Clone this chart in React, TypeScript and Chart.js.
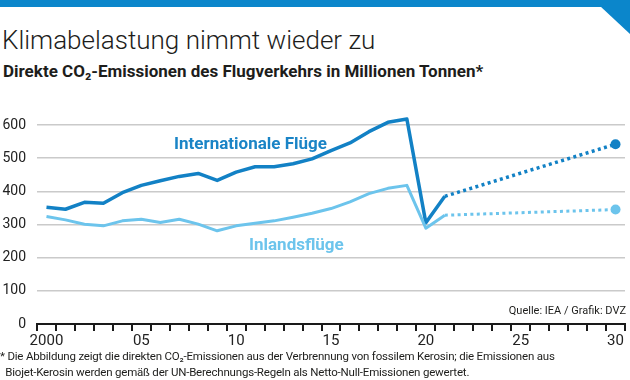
import React, { useEffect, useRef } from "react";
import { Chart, registerables } from "chart.js";

Chart.register(...registerables);

const YEARS = [
  "2000", "2001", "2002", "2003", "2004", "2005", "2006", "2007", "2008", "2009",
  "2010", "2011", "2012", "2013", "2014", "2015", "2016", "2017", "2018", "2019",
  "2020", "2021", "2022", "2023", "2024", "2025", "2026", "2027", "2028", "2029", "2030",
];
const TICK_LABELS = ["2000", "05", "10", "15", "20", "25", "30"];

// Historical values 2000–2021 (Mio. t CO2)
const INTERNATIONAL = [352, 346, 367, 364, 396, 418, 432, 445, 454, 433, 458, 474, 474, 483, 498, 523, 546, 580, 608, 618, 305, 385];
const INLAND = [324, 314, 301, 296, 311, 316, 306, 316, 301, 281, 296, 304, 311, 322, 334, 348, 368, 393, 409, 418, 289, 328];

// Projection endpoints
const PROJ_YEARS = ["2021", "2030"];
const INTERNATIONAL_PROJ = [385, 542];
const INLAND_PROJ = [328, 345];

const Y_TICKS = [0, 100, 200, 300, 400, 500, 600];

const DARK = "#1281c5";
const LIGHT = "#6cc4ec";
const FONT = "Roboto, 'Liberation Sans', sans-serif";

export default function App() {
  const ref = useRef<HTMLCanvasElement | null>(null);

  useEffect(() => {
    if (!ref.current) return;
    const proj = (vals: number[]) => PROJ_YEARS.map((x, i) => ({ x, y: vals[i] }));
    const endDot = (c: any) => (c.raw && c.raw.x === "2030" ? 5 : 0);
    const chart = new Chart(ref.current, {
      type: "line",
      data: {
        labels: YEARS,
        datasets: [
          {
            data: INLAND,
            borderColor: LIGHT,
            borderWidth: 3,
            pointRadius: 0,
            tension: 0,
            borderJoinStyle: "round",
            clip: false,
          } as any,
          {
            data: proj(INLAND_PROJ) as any,
            borderColor: LIGHT,
            backgroundColor: LIGHT,
            borderWidth: 3,
            borderDash: [3, 3.4],
            pointRadius: endDot as any,
            pointBorderWidth: 0,
            spanGaps: true,
            clip: false,
          } as any,
          {
            data: INTERNATIONAL,
            borderColor: DARK,
            borderWidth: 3.5,
            pointRadius: 0,
            tension: 0,
            borderJoinStyle: "round",
            clip: false,
          } as any,
          {
            data: proj(INTERNATIONAL_PROJ) as any,
            borderColor: DARK,
            backgroundColor: DARK,
            borderWidth: 3.5,
            borderDash: [3, 3.4],
            pointRadius: endDot as any,
            pointBorderWidth: 0,
            spanGaps: true,
            clip: false,
          } as any,
        ],
      },
      options: {
        animation: false,
        responsive: false,
        maintainAspectRatio: false,
        layout: { padding: { left: 0, right: 3.5, top: 125, bottom: 31 } },
        plugins: { legend: { display: false }, tooltip: { enabled: false } },
        scales: {
          x: {
            type: "category",
            offset: true,
            grid: {
              offset: true,
              drawOnChartArea: false,
              drawTicks: true,
              tickLength: 7,
              color: "#1a1a1a",
              lineWidth: 2,
            },
            border: { display: true, color: "#1a1a1a", width: 2 },
            ticks: {
              autoSkip: false,
              maxRotation: 0,
              padding: 1,
              color: "#222",
              font: { family: FONT, size: 15 },
              callback: (_v: any, i: number) => (i % 5 === 0 ? TICK_LABELS[i / 5] : ""),
            },
            afterFit: (s: any) => {
              s.height = 25;
            },
          },
          y: {
            min: Y_TICKS[0],
            max: Y_TICKS[Y_TICKS.length - 1],
            ticks: {
              stepSize: 100,
              padding: 11,
              color: "#222",
              font: { family: FONT, size: 14 },
            },
            grid: {
              drawTicks: false,
              lineWidth: 1.5,
              color: (c: any) => (c.tick && c.tick.value === 0 ? "rgba(0,0,0,0)" : "#cacaca"),
            },
            border: { display: false },
            afterFit: (s: any) => {
              s.width = 37;
            },
          },
        },
      },
    });
    return () => chart.destroy();
  }, []);

  const abs = (o: React.CSSProperties): React.CSSProperties => ({ position: "absolute", whiteSpace: "nowrap", ...o });

  return (
    <div style={{ position: "fixed", left: 0, top: 0, width: 630, height: 380, background: "#fff", overflow: "hidden", fontFamily: FONT }}>
      <div style={abs({ left: 0, top: 0, width: 630, height: 7, background: "#0b86cb" })} />
      <div style={abs({ left: 600, top: 6, width: 30, height: 28, background: "#0b86cb", clipPath: "polygon(0 0, 100% 0, 100% 100%)" })} />
      <div style={abs({ left: 2, top: 24, fontSize: 26, fontWeight: 300, color: "#1d1d1b", lineHeight: "32px" })}>
        Klimabelastung nimmt wieder zu
      </div>
      <div style={abs({ left: 3, top: 60, fontSize: 17, fontWeight: 700, color: "#1d1d1b", lineHeight: "22px" })}>
        Direkte CO₂-Emissionen des Flugverkehrs in Millionen Tonnen*
      </div>
      <canvas ref={ref} width={630} height={380} style={{ position: "absolute", left: 0, top: 0, width: 630, height: 380 }} />
      <div style={abs({ left: 174, top: 132, fontSize: 17, fontWeight: 700, color: "#1a84c6", lineHeight: "22px" })}>
        Internationale Flüge
      </div>
      <div style={abs({ left: 249, top: 233, fontSize: 17, fontWeight: 700, color: LIGHT, lineHeight: "22px" })}>
        Inlandsflüge
      </div>
      <div style={abs({ right: 4, top: 303, fontSize: 11, color: "#1d1d1b", lineHeight: "16px" })}>
        Quelle: IEA / Grafik: DVZ
      </div>
      <div style={abs({ left: 0, top: 348, fontSize: 11.5, color: "#1d1d1b", lineHeight: "16px", letterSpacing: -0.2 })}>
        * Die Abbildung zeigt die direkten CO₂-Emissionen aus der Verbrennung von fossilem Kerosin; die Emissionen aus
        <br />
        &nbsp;&nbsp;Biojet-Kerosin werden gemäß der UN-Berechnungs-Regeln als Netto-Null-Emissionen gewertet.
      </div>
    </div>
  );
}
